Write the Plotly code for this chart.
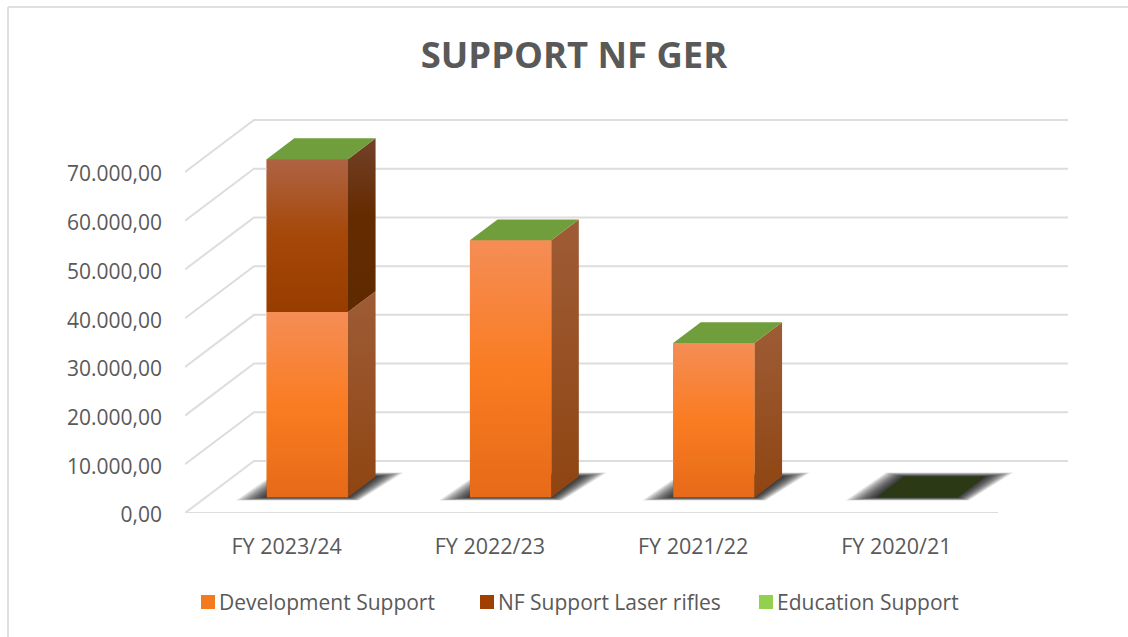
import plotly.graph_objects as go

categories = ["FY 2023/24", "FY 2022/23", "FY 2021/22", "FY 2020/21"]
development_support = [38070, 52800, 31700, 0]
nf_support_laser_rifles = [31370, 0, 0, 0]
education_support = [0, 0, 0, 0]
y_ticks = [0, 10000, 20000, 30000, 40000, 50000, 60000, 70000]
y_tick_labels = ["0,00", "10.000,00", "20.000,00", "30.000,00", "40.000,00", "50.000,00", "60.000,00", "70.000,00"]

W, H = 1128, 637
L, R, T, B = 185, 60, 119, 124.3
CAT_PX = 203.25
VAL_PX = 48.67 / 10000
DX = 69 / CAT_PX
DY = 52 / VAL_PX
HALF = 0.2
D_FRONT, D_BACK = 0.30, 0.70
GRID = "#DDDDDD"
TXT = "#595959"

def px(v): return v / CAT_PX
def pv(v): return v / VAL_PX

def pos(cat, side, val, depth):
    return cat + side * HALF + depth * DX, val + depth * DY

def poly(points, colors=None, fill=None, name=""):
    xs = [p[0] for p in points] + [points[0][0]]
    ys = [p[1] for p in points] + [points[0][1]]
    kw = dict(x=xs, y=ys, mode="lines", line=dict(width=0), fill="toself", showlegend=False,
              hoverinfo="skip", cliponaxis=False, name=name)
    if colors:
        kw["fillgradient"] = dict(type="vertical", colorscale=colors)
    else:
        kw["fillcolor"] = fill
    return go.Scatter(**kw)

x_cat = list(range(len(categories)))
bar_x = [c + D_FRONT * DX for c in x_cat]
offset = D_FRONT * DY

fig = go.Figure()
base2 = [offset + d for d in development_support]
base3 = [b + n for b, n in zip(base2, nf_support_laser_rifles)]
fig.add_bar(x=bar_x, y=development_support, base=[offset] * 4, width=2 * HALF, name="Development Support",
            marker=dict(color="#F47A20", line_width=0), hoverinfo="skip")
fig.add_bar(x=bar_x, y=nf_support_laser_rifles, base=base2, width=2 * HALF, name="NF Support Laser rifles",
            marker=dict(color="#A04000", line_width=0), hoverinfo="skip")
fig.add_bar(x=bar_x, y=education_support, base=base3, width=2 * HALF, name="Education Support",
            marker=dict(color="#92D050", line_width=0), hoverinfo="skip")

# gridlines
gx, gy = [], []
xmax = (W - R - L) / CAT_PX - 0.5
for v in y_ticks:
    gx += [-0.5, -0.5 + DX, xmax, None]
    gy += [v, v + DY, v + DY, None]
gx += [-0.5, 3.5]
gy += [0, 0]
fig.add_scatter(x=gx, y=gy, mode="lines", line=dict(color=GRID, width=2), showlegend=False,
                hoverinfo="skip", cliponaxis=False)

# floor shadows: nested translucent parallelograms give a soft edge
N = 16
for c in x_cat:
    for i in range(N):
        t = 1 - i / (N - 1)
        fl = pos(c, -1, 0, D_FRONT)
        bl = pos(c, -1, 0, D_BACK)
        br = pos(c, 1, 0, D_BACK)
        fr = pos(c, 1, 0, D_FRONT)
        pts = [
            (fl[0] - px(31 * t), fl[1] - pv(3 * t)),
            (bl[0] - px(18 * t), bl[1] + pv(4 * t)),
            (br[0] + px(28 * t), br[1] + pv(4 * t)),
            (fr[0] + px(11 * t), fr[1] - pv(3 * t)),
        ]
        fig.add_trace(poly(pts, fill="rgba(0,0,0,0.085)"))

FRONT_ORANGE = [[0, "#E66A18"], [0.5, "#FA7C22"], [1, "#F58D56"]]
SIDE_ORANGE = [[0, "#8F4512"], [1, "#9E5C36"]]
FRONT_BROWN = [[0, "#983D00"], [0.5, "#A54808"], [1, "#AF6344"]]
SIDE_BROWN = [[0, "#5F2A00"], [0.55, "#642B00"], [1, "#73412A"]]
TOP_GREEN = "#709E3C"
TOP_EMPTY = "#2B3A14"

for c, d, n, e in zip(x_cat, development_support, nf_support_laser_rifles, education_support):
    v0, v1, v2 = 0, d, d + n
    for lo, hi, fc, sc in [(v0, v1, FRONT_ORANGE, SIDE_ORANGE), (v1, v2, FRONT_BROWN, SIDE_BROWN)]:
        if hi <= lo:
            continue
        fig.add_trace(poly([pos(c, 1, lo, D_FRONT), pos(c, 1, lo, D_BACK), pos(c, 1, hi, D_BACK), pos(c, 1, hi, D_FRONT)], colors=sc))
        fig.add_trace(poly([pos(c, -1, lo, D_FRONT), pos(c, 1, lo, D_FRONT), pos(c, 1, hi, D_FRONT), pos(c, -1, hi, D_FRONT)], colors=fc))
    top = v2 + e
    fig.add_trace(poly([pos(c, -1, top, D_FRONT), pos(c, 1, top, D_FRONT), pos(c, 1, top, D_BACK), pos(c, -1, top, D_BACK)],
                       fill=TOP_GREEN if top > 0 else TOP_EMPTY))

def pxx(p): return (p - L) / (W - L - R)
def pyy(p): return 1 - (p - T) / (H - T - B)

frame = dict(type="line", xref="paper", yref="paper", line=dict(color="#E0E0E0", width=2), layer="below")
fig.update_layout(
    width=W, height=H, margin=dict(l=L, r=R, t=T, b=B, pad=0, autoexpand=False),
    paper_bgcolor="white", plot_bgcolor="rgba(0,0,0,0)", barmode="overlay",
    font=dict(family="Open Sans", color=TXT, size=21),
    title=dict(text="<b>SUPPORT NF GER</b>", font=dict(size=36.4, color=TXT, family="Open Sans"),
               x=574 / W, xanchor="center", xref="container",
               y=1 - 55 / H, yanchor="middle"),
    xaxis=dict(range=[-0.5, xmax], tickvals=x_cat, ticktext=categories, showgrid=False, zeroline=False,
               showline=False, ticks="", ticklabelstandoff=18, tickfont=dict(size=21.5, color=TXT)),
    yaxis=dict(range=[0, (H - T - B) / VAL_PX], tickvals=y_ticks, ticktext=y_tick_labels, showgrid=False,
               zeroline=False, showline=False, ticks="", ticklabelstandoff=22, ticklabelshift=2,
               tickfont=dict(size=21, color=TXT)),
    legend=dict(orientation="h", x=pxx(179), y=pyy(602), xanchor="left", yanchor="middle",
                font=dict(size=21, color=TXT), entrywidth=234, entrywidthmode="pixels", itemwidth=30,
                bgcolor="rgba(0,0,0,0)"),
    shapes=[
        dict(frame, x0=pxx(8), x1=pxx(W), y0=pyy(7), y1=pyy(7)),
        dict(frame, x0=pxx(8), x1=pxx(8), y0=pyy(7), y1=pyy(H)),
    ],
)
POST = """
document.body.style.margin='0';document.body.style.overflow='hidden';
document.querySelectorAll('.legend .legendsymbols').forEach(function(g){g.setAttribute('transform','translate(9,0)');});
document.querySelectorAll('.legend .legendsymbols path').forEach(function(p){p.setAttribute('d','M7,7H-7V-7H7Z');});
"""
fig.write_html("out.html", config={"displayModeBar": False}, post_script=POST)
